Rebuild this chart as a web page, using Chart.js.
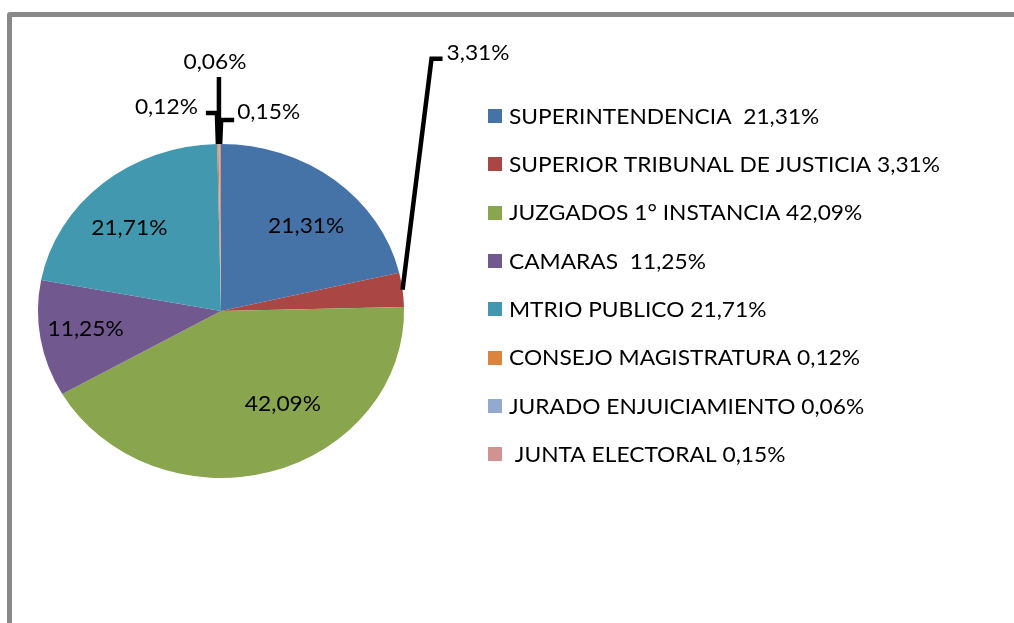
<!DOCTYPE html>
<html lang="es">
<head>
    <meta charset="UTF-8">
    <title>Distribución presupuestaria</title>
    <style>
        body {
            margin: 0;
            background: #fff;
            overflow: hidden;
        }

        #wrap {
            position: relative;
            width: 1014px;
            height: 623px;
            overflow: hidden;
        }

        /* marco gris, se sale por la derecha y por abajo */
        #frame {
            position: absolute;
            left: 7px;
            top: 12px;
            width: 1040px;
            height: 660px;
            border: 5px solid #898989;
            border-radius: 3px;
            box-sizing: border-box;
        }

        #myChart {
            position: absolute;
            left: 0;
            top: 0;
        }
    </style>
</head>
<body>
    <div id="wrap">
        <div id="frame"></div>
        <canvas id="myChart" width="1014" height="623"></canvas>
    </div>

    <script src="https://cdn.jsdelivr.net/npm/chart.js"></script>
    <script>
const categories = [
    'SUPERINTENDENCIA',
    'SUPERIOR TRIBUNAL DE JUSTICIA',
    'JUZGADOS 1° INSTANCIA',
    'CAMARAS',
    'MTRIO PUBLICO',
    'CONSEJO MAGISTRATURA',
    'JURADO ENJUICIAMIENTO',
    'JUNTA ELECTORAL'
];
const values = [21.31, 3.31, 42.09, 11.25, 21.71, 0.12, 0.06, 0.15];
const legendLabels = [
    'SUPERINTENDENCIA  21,31%',
    'SUPERIOR TRIBUNAL DE JUSTICIA 3,31%',
    'JUZGADOS 1° INSTANCIA 42,09%',
    'CAMARAS  11,25%',
    'MTRIO PUBLICO 21,71%',
    'CONSEJO MAGISTRATURA 0,12%',
    'JURADO ENJUICIAMIENTO 0,06%',
    ' JUNTA ELECTORAL 0,15%'
];
const colors = ['#4572a7', '#aa4643', '#89a54e', '#71588f', '#4198af', '#db843d', '#93a9cf', '#d19392'];

// ---- styling / layout (no data here) ----
const fontFamily = 'Lato, "Open Sans", sans-serif';
const fontSize = 21;
const longestLegendWidth = 431;   // px width of the longest legend line in the original
const stretchX = 1.096;           // pie is a bit wider than tall
const insideRing = { fx: 0.75, fy: 0.65 };
const insideNudge = { 2: [25, -11], 4: [-3, 0] };
// leader lines for the thin slices: elbow offset from slice edge, horizontal run, text offset
const leaders = {
    1: { ex: 29, ey: -231, run: 11, tdx: 4, tdy: -5, align: 'left' },
    5: { ex: -1, ey: -31, run: -11, tdx: -8, tdy: -6, align: 'right' },
    6: { ex: 0, ey: -67, run: 0, tdx: -4, tdy: -15, align: 'center' },
    7: { ex: 1, ey: -24, run: 13, tdx: 3, tdy: -8, align: 'left' }
};
const legendBox = { x: 488, y0: 116, step: 48.3, size: 14, textX: 509 };

let squeeze = 1;

function fmt(v) {
    return v.toFixed(2).replace('.', ',') + '%';
}

// the original text is stretched sideways like the pie, so scale it the same way
function drawText(ctx, text, x, y, align) {
    const w = ctx.measureText(text).width * squeeze;
    let left = x;
    if (align === 'center') left = x - w / 2;
    if (align === 'right') left = x - w;
    ctx.save();
    ctx.translate(left, y);
    ctx.scale(squeeze, 1);
    ctx.textAlign = 'left';
    ctx.fillText(text, 0, 0);
    ctx.restore();
}

// stretch the pie horizontally around its centre
const ellipsePlugin = {
    id: 'ellipse',
    beforeDatasetsDraw(chart) {
        const arc = chart.getDatasetMeta(0).data[0];
        const ctx = chart.ctx;
        ctx.save();
        ctx.translate(arc.x, arc.y);
        ctx.scale(stretchX, 1);
        ctx.translate(-arc.x, -arc.y);
    },
    afterDatasetsDraw(chart) {
        chart.ctx.restore();
    }
};

const labelPlugin = {
    id: 'labels',
    afterDraw(chart) {
        const ctx = chart.ctx;
        const arcs = chart.getDatasetMeta(0).data;

        ctx.save();
        ctx.font = fontSize + 'px ' + fontFamily;
        squeeze = longestLegendWidth / ctx.measureText(legendLabels[1]).width;
        ctx.fillStyle = '#000';
        ctx.textBaseline = 'middle';

        arcs.forEach((arc, i) => {
            const mid = (arc.startAngle + arc.endAngle) / 2;
            const r = arc.outerRadius;
            const text = fmt(values[i]);
            const lead = leaders[i];
            if (lead) {
                const sx = arc.x + Math.cos(mid) * r * stretchX;
                const sy = arc.y + Math.sin(mid) * r;
                const ex = sx + lead.ex, ey = sy + lead.ey;
                const hx = ex + lead.run;
                ctx.strokeStyle = '#000';
                ctx.lineWidth = 4.5;
                ctx.lineJoin = 'miter';
                ctx.beginPath();
                ctx.moveTo(sx, sy);
                ctx.lineTo(ex, ey);
                ctx.lineTo(hx, ey);
                ctx.stroke();
                drawText(ctx, text, hx + lead.tdx, ey + lead.tdy, lead.align);
            } else {
                const n = insideNudge[i] || [0, 0];
                const x = arc.x + Math.cos(mid) * r * stretchX * insideRing.fx + n[0];
                const y = arc.y + Math.sin(mid) * r * insideRing.fy + n[1];
                drawText(ctx, text, x, y, 'center');
            }
        });

        // legend
        legendLabels.forEach((lbl, i) => {
            const y = legendBox.y0 + i * legendBox.step;
            ctx.fillStyle = colors[i];
            ctx.fillRect(legendBox.x, Math.round(y - legendBox.size / 2), legendBox.size, legendBox.size);
            ctx.fillStyle = '#000';
            drawText(ctx, lbl, legendBox.textX, y + 1, 'left');
        });
        ctx.restore();
    }
};

const ctx = document.getElementById('myChart').getContext('2d');
const myChart = new Chart(ctx, {
    type: 'pie',
    data: {
        labels: categories,
        datasets: [{
            data: values,
            backgroundColor: colors,
            borderWidth: 0
        }]
    },
    options: {
        responsive: false,
        animation: false,
        events: [],
        layout: {
            padding: { left: 54, right: 626, top: 144, bottom: 145 }
        },
        plugins: {
            legend: { display: false },
            tooltip: { enabled: false }
        }
    },
    plugins: [ellipsePlugin, labelPlugin]
});
    </script>
</body>
</html>
